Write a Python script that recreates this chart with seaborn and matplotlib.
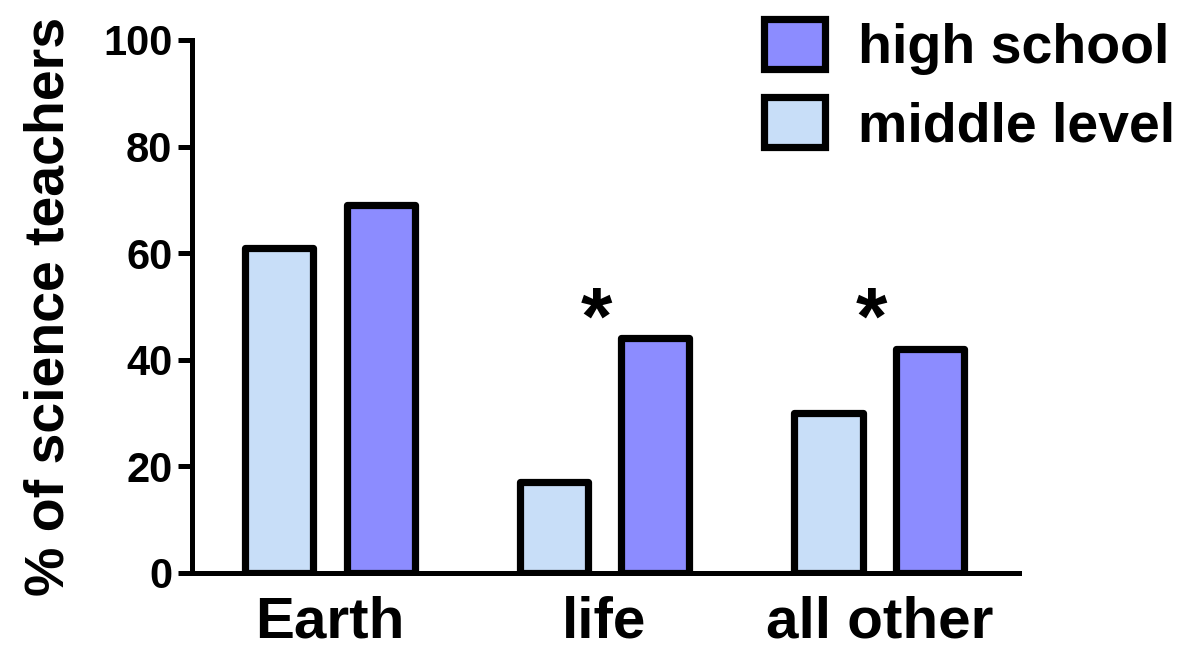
import matplotlib
matplotlib.use("Agg")
import matplotlib.pyplot as plt
from matplotlib.patches import Patch
import seaborn as sns
import pandas as pd

# Share of science teachers by subject area and school level
subjects = ["Earth", "life", "all other"]
middle_level = [61, 17, 30]
high_school = [69, 44, 42]
significant = [False, True, True]
y_ticks = [0, 20, 40, 60, 80, 100]

levels = ["middle level", "high school"]
colors = {"middle level": "#C8DEF8", "high school": "#8C8CFF"}

df = pd.DataFrame({
    "subject": subjects * 2,
    "level": ["middle level"] * len(subjects) + ["high school"] * len(subjects),
    "pct": middle_level + high_school,
})

sns.set_theme(style="white")
plt.rcParams["font.family"] = ["Liberation Sans", "DejaVu Sans"]
plt.rcParams.update({
    "font.weight": "bold",
    "text.color": "black",
    "axes.labelcolor": "black",
    "xtick.color": "black",
    "ytick.color": "black",
})

fig = plt.figure(figsize=(11.84, 6.47), dpi=100)
ax = fig.add_axes([0.162, 0.1144, 0.699, 0.8238])

sns.barplot(data=df, x="subject", y="pct", hue="level", order=subjects,
            hue_order=levels, palette=colors, width=0.74, gap=0.33,
            edgecolor="black", linewidth=5.2, ax=ax, legend=False,
            errorbar=None, saturation=1)
for p in ax.patches:
    p.set_joinstyle("round")

# significance markers above the pairs that differ
star_y = 43
for i, sig in enumerate(significant):
    if sig:
        ax.text(i - 0.03, star_y, "*", ha="center", va="baseline",
                fontsize=58, fontweight="bold", color="black")

ax.set_ylim(0, 100)
ax.set_xlim(-0.502, 2.51)
ax.set_yticks(y_ticks)
ax.set_yticklabels([str(t) for t in y_ticks], fontsize=30, fontweight="bold")
ax.tick_params(axis="y", which="major", direction="out", length=10,
               width=3.6, color="black", pad=4, left=True)
ax.tick_params(axis="x", length=0, pad=16, labelsize=42)
for lbl in ax.get_xticklabels():
    lbl.set_fontweight("bold")
ax.set_xlabel("")
ax.set_ylabel("% of science teachers", fontsize=40, fontweight="bold",
              labelpad=20)

sns.despine(ax=ax)
for side in ("left", "bottom"):
    ax.spines[side].set_linewidth(3.6)
    ax.spines[side].set_color("black")

handles = [Patch(facecolor=colors["high school"], edgecolor="black", linewidth=5.2),
           Patch(facecolor=colors["middle level"], edgecolor="black", linewidth=5.2)]
leg = fig.legend(handles, ["high school", "middle level"], loc="upper right",
                 bbox_to_anchor=(1.021, 1.022), frameon=False,
                 prop={"size": 40, "weight": "bold"},
                 handlelength=1.1, handleheight=1.0, handletextpad=0.6,
                 labelspacing=0.4, borderaxespad=0.2)

fig.savefig("out.png", dpi=100)
